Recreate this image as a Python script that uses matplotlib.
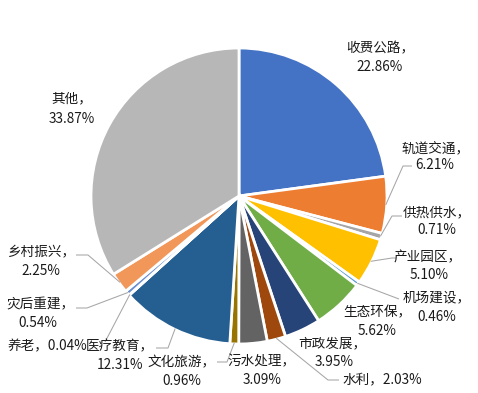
import numpy as np
import matplotlib
matplotlib.use("Agg")
import matplotlib.pyplot as plt

plt.rcParams['font.family'] = ['Noto Sans CJK SC', 'DejaVu Sans']

categories = ["收费公路", "轨道交通", "供热供水", "产业园区", "机场建设", "生态环保",
              "市政发展", "水利", "污水处理", "文化旅游", "医疗教育", "养老",
              "灾后重建", "乡村振兴", "其他"]
values = [22.86, 6.21, 0.71, 5.10, 0.46, 5.62, 3.95, 2.03, 3.09, 0.96, 12.31,
          0.04, 0.54, 2.25, 33.87]
colors = ["#4472C4", "#ED7D31", "#A5A5A5", "#FFC000", "#5B9BD5", "#70AD47",
          "#264478", "#9E480E", "#636363", "#997300", "#255E91", "#43682B",
          "#698ED0", "#F1975A", "#B7B7B7"]

W, H = 478, 393
CX, CY, R = 239, 196, 148


def Y(py):
    return H - py


# label layout (pixel coords, y down)
label_layout = {
    "收费公路": ((380, 48), (380, 67)),
    "轨道交通": ((436, 148), (435, 165)),
    "供热供水": ((437, 212), (437, 230)),
    "产业园区": ((428, 257), (429, 275)),
    "机场建设": ((437, 297), (437, 317)),
    "生态环保": ((377, 312), (377, 331)),
    "市政发展": ((332, 343), (334, 362)),
    "水利": ((382, 379), None),
    "污水处理": ((262, 361), (262, 380)),
    "文化旅游": ((182, 362), (182, 381)),
    "医疗教育": ((120, 346), (120, 365)),
    "养老": ((47, 346), None),
    "灾后重建": ((40, 304), (38, 323)),
    "乡村振兴": ((41, 252), (41, 271)),
    "其他": ((72, 98), (72, 119)),
}

# leader paths after the slice start point (pixel coords, y down)
leaders = {
    "轨道交通": [(403, 166), (412, 166)],
    "供热供水": [(392, 216), (402, 216)],
    "产业园区": [(392, 258), (396, 258)],
    "机场建设": [(399, 299)],
    "水利": [(328, 380), (339, 380)],
    "文化旅游": [(227, 362), (217, 362)],
    "医疗教育": [(168, 348), (156, 348)],
    "养老": [(105, 342)],
    "灾后重建": [(87, 308), (76, 308)],
    "乡村振兴": [(88, 255), (76, 255)],
}

fig = plt.figure(figsize=(W / 100, H / 100), dpi=100)
ax = fig.add_axes([0, 0, 1, 1])
ax.pie(values, colors=colors, startangle=90, counterclock=False,
       center=(CX, Y(CY)), radius=R, frame=True,
       wedgeprops=dict(edgecolor="white", linewidth=2))
ax.set_xlim(0, W)
ax.set_ylim(0, H)
ax.set_aspect('auto')
ax.axis('off')

fs = 9.8
tc = "#1a1a1a"
cum = np.cumsum([0] + values[:-1])
for name, v, c0 in zip(categories, values, cum):
    l1, l2 = label_layout[name]
    if l2 is None:
        ax.text(l1[0], Y(l1[1]), f"{name}，{v:.2f}%", ha="center", va="center",
                fontsize=fs, color=tc)
    else:
        ax.text(l1[0], Y(l1[1]), f"{name}，", ha="center", va="center",
                fontsize=fs, color=tc)
        ax.text(l2[0], Y(l2[1]), f"{v:.2f}%", ha="center", va="center",
                fontsize=fs, color=tc)
    if name in leaders:
        ang = np.deg2rad((c0 + v / 2) * 3.6)
        sx = CX + (R - 1) * np.sin(ang)
        sy = CY - (R - 1) * np.cos(ang)
        pts = [(sx, sy)] + leaders[name]
        ax.plot([p[0] for p in pts], [Y(p[1]) for p in pts], color="#A6A6A6",
                lw=0.75, solid_capstyle="butt")

fig.savefig("out.png", dpi=100)
